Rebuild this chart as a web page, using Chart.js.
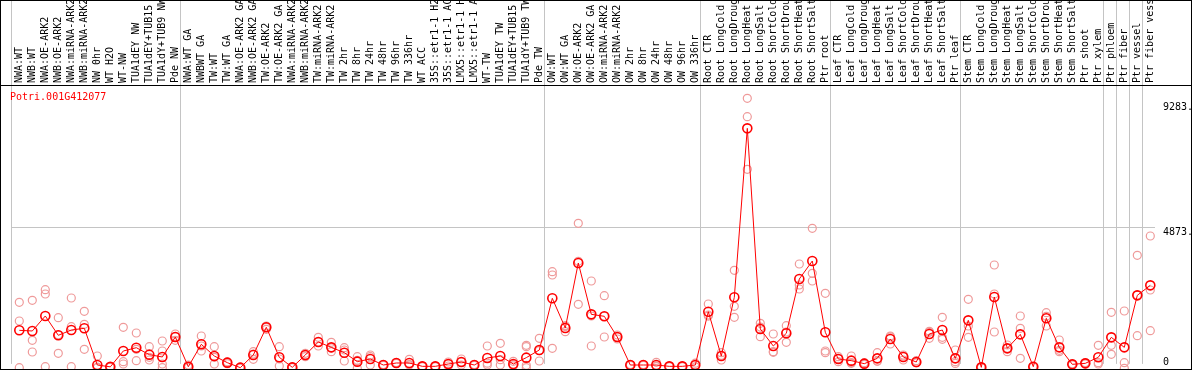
<!DOCTYPE html>
<html>
<head>
<meta charset="utf-8">
<script src="https://cdn.jsdelivr.net/npm/chart.js@4/dist/chart.umd.min.js"></script>
<style>
  html, body { margin: 0; padding: 0; background: #ffffff; }
  #wrap { position: relative; width: 1194px; height: 370px; }
  canvas { display: block; }
</style>
</head>
<body>
<div id="wrap"><canvas id="c" width="1194" height="370"></canvas></div>
<script>
const geneName = "Potri.001G412077";

const categories = [
  "NWA:WT", "NWB:WT", "NWA:OE-ARK2", "NWB:OE-ARK2", "NWA:miRNA-ARK2", "NWB:miRNA-ARK2",
  "NW 0hr", "WT H2O", "WT-NW", "TUA1dEY NW", "TUA1dEY+TUB15", "TUA1dY+TUB9 NW", "Pde NW",
  "NWA:WT GA", "NWBWT GA", "TW:WT", "TW:WT GA", "NWA:OE-ARK2 GA", "NWB:OE-ARK2 GA",
  "TW:OE-ARK2", "TW:OE-ARK2 GA", "NWA:miRNA-ARK2", "NWB:miRNA-ARK2", "TW:miRNA-ARK2", "TW:miRNA-ARK2",
  "TW 2hr", "TW 8hr", "TW 24hr", "TW 48hr", "TW 96hr", "TW 336hr", "WT ACC",
  "35S::etr1-1 H2O", "35S::etr1-1 ACC", "LMX5::etr1-1 H2O", "LMX5::etr1-1 ACC",
  "WT-TW", "TUA1dEY TW", "TUA1dEY+TUB15", "TUA1dY+TUB9 TW", "Pde TW",
  "OW:WT", "OW:WT GA", "OW:OE-ARK2", "OW:OE-ARK2 GA", "OW:miRNA-ARK2", "OW:miRNA-ARK2",
  "OW 2hr", "OW 8hr", "OW 24hr", "OW 48hr", "OW 96hr", "OW 336hr",
  "Root CTR", "Root LongCold", "Root LongDrought", "Root LongHeat", "Root LongSalt",
  "Root ShortCold", "Root ShortDrought", "Root ShortHeat", "Root ShortSalt", "Ptr root",
  "Leaf CTR", "Leaf LongCold", "Leaf LongDrought", "Leaf LongHeat", "Leaf LongSalt",
  "Leaf ShortCold", "Leaf ShortDrought", "Leaf ShortHeat", "Leaf ShortSalt", "Ptr leaf",
  "Stem CTR", "Stem LongCold", "Stem LongDrought", "Stem LongHeat", "Stem LongSalt",
  "Stem ShortCold", "Stem ShortDrought", "Stem ShortHeat", "Stem ShortSalt", "Ptr shoot",
  "Ptr xylem", "Ptr phloem", "Ptr fiber", "Ptr vessel", "Ptr fiber vessel"
];

// mean expression per sample
const meanValues = [
  1259, 1235, 1764, 1083, 1270, 1330, 35, -30, 529, 646, 400, 318, 1023,
  -25, 765, 353, 118, -59, 388, 1365, 307, -47, 388, 847, 658, 470, 153, 247, 35, 106, 106,
  -12, -12, 71, 141, 35, 282, 353, 71, 294, 565,
  2388, 1341, 3634, 1823, 1753, 1023, 35, 35, 35, -12, -12, 35,
  1916, 353, 2423, 8385, 1305, 706, 1153, 3069, 3704, 1189,
  247, 188, 82, 270, 953, 318, 141, 1129, 1270, 270,
  1611, -47, 2434, 623, 1117, -24, 1682, 658, 59, 94, 307,
  1011, 658, 2493, 2846
];

// replicate measurements per sample
const rep1 = [
  2247, 2318, 2692, 1704, 2399, 1930, 353, -20, 1365, 1164, 681, 882, 1129,
  35, 1058, 681, 150, -40, 505, 1411, 681, -40, 448, 1011, 835, 646, 329, 388, 35, 106, 235,
  -12, -12, 141, 247, 35, 706, 800, 165, 729, 976,
  3327, 1422, 5034, 2999, 2480, 1094, 35, 35, 130, -12, -12, 100,
  2187, 470, 3376, 9444, 1506, 1129, 1422, 3599, 4858, 2565,
  329, 353, 118, 470, 1058, 388, 188, 1223, 1718, 565,
  2352, -47, 3563, 741, 1764, -24, 1882, 917, 59, 94, 729,
  1894, 1940, 3905, 4586
];
const rep2 = [
  1588, 907, 2540, 448, 1387, 1471, -40, -30, 152, 187, 212, 529, 1034,
  -40, 529, 71, 118, -60, 235, 1365, 0, -60, 329, 706, 505, 176, 200, 330, 20, 90, 35,
  -20, 0, 0, 35, 20, 100, 35, 0, 682, 176,
  3210, 1210, 2177, 706, 1023, 1023, 20, 20, 0, 0, 0, 35,
  1799, 212, 2106, 8795, 1375, 482, 1200, 2858, 3270, 529,
  153, 94, 59, 176, 776, 212, 118, 976, 1011, 153,
  1411, -30, 2540, 623, 1329, -10, 1411, 505, 80, 120, 118,
  729, 118, 1070, 2681
];
const rep3 = [
  -60, 494, -25, 1100, -25, 589, -60, -40, 71, 589, 307, 71, 906,
  -60, 706, 307, 80, -80, 420, 1294, 247, -40, 388, 847, 635, 565, -82, 35, 50, 120, 50,
  0, -25, 71, 141, 50, 35, 224, 47, 24, 543,
  624, 1390, 3692, 1764, 1756, 952, 50, 50, -25, -25, -25, -30,
  1762, 377, 1718, 6940, 1034, 507, 835, 2717, 2999, 470,
  259, 118, 70, 165, 1025, 353, 118, 1188, 941, 92,
  1011, -60, 1199, 505, 270, -40, 1753, 552, 40, 70, 71,
  412, -82, 2504, 1246
];
const rep4 = categories.map(() => null);
rep4[11] = -60;
rep4[39] = -59;

const yTickValues = [0, 4873, 9283];
const yTickLabels = ["0", "4873.", "9283."];
const separatorIndexes = [0, 13, 41, 53, 63, 73, 84, 85, 86, 87, 88];

const toPoints = arr => arr.map((v, i) => (v === null ? null : { x: i + 1, y: v })).filter(p => p !== null);

const framePlugin = {
  id: 'frame',
  afterDraw(chart) {
    const ctx = chart.ctx;
    ctx.save();
    ctx.strokeStyle = '#000000';
    ctx.lineWidth = 1;
    ctx.beginPath();
    ctx.moveTo(0, 85.5); ctx.lineTo(1192, 85.5);
    ctx.stroke();
    ctx.strokeRect(0.5, 0.5, 1191, 369);
    ctx.fillStyle = '#ff0000';
    ctx.font = '10px "DejaVu Sans Mono"';
    ctx.textBaseline = 'alphabetic';
    ctx.textAlign = 'left';
    ctx.fillText(geneName, 10, 100);
    ctx.restore();
  }
};

const monoFont = { family: '"DejaVu Sans Mono", monospace', size: 10 };

new Chart(document.getElementById('c'), {
  type: 'scatter',
  data: {
    labels: categories,
    datasets: [
      {
        label: 'mean',
        data: toPoints(meanValues),
        xAxisID: 'xd',
        yAxisID: 'y',
        showLine: true,
        borderColor: '#ff0000',
        borderWidth: 1,
        pointRadius: 4.5,
        pointBorderWidth: 1.6,
        pointBorderColor: '#ff0000',
        pointBackgroundColor: 'rgba(0,0,0,0)',
        clip: false
      },
      ...[rep1, rep2, rep3, rep4].map((r, k) => ({
        label: 'rep' + (k + 1),
        data: toPoints(r),
        xAxisID: 'xd',
        yAxisID: 'y',
        showLine: false,
        pointRadius: 4,
        pointBorderWidth: 1.2,
        pointBorderColor: '#ef9a9a',
        pointBackgroundColor: 'rgba(0,0,0,0)',
        clip: false
      }))
    ]
  },
  options: {
    responsive: false,
    animation: false,
    layout: { padding: { left: 11, right: 0, top: 0, bottom: 1 } },
    plugins: { legend: { display: false }, tooltip: { enabled: false }, title: { display: false } },
    scales: {
      x: {
        type: 'category',
        position: 'top',
        offset: true,
        border: { display: false },
        grid: {
          offset: true,
          drawOnChartArea: true,
          drawTicks: true,
          tickLength: 85,
          lineWidth: 1,
          color: ctx => separatorIndexes.includes(ctx.index) ? '#c4c4c4' : 'rgba(0,0,0,0)'
        },
        ticks: {
          autoSkip: false,
          minRotation: 90,
          maxRotation: 90,
          padding: -83,
          labelOffset: 14,
          color: '#000000',
          font: monoFont
        },
        afterFit: scale => {
          scale.height = 85;
          scale.paddingLeft = 0; scale.paddingRight = 0;
          scale.paddingTop = 0; scale.paddingBottom = 0;
        }
      },
      xd: {
        type: 'linear',
        display: false,
        min: 0.3615,
        max: 88.3615
      },
      y: {
        type: 'linear',
        position: 'right',
        min: 74,
        max: 9914,
        border: { display: false },
        grid: {
          drawTicks: false,
          lineWidth: 1,
          color: ctx => (ctx.tick && ctx.tick.value === 4873) ? '#c4c4c4' : 'rgba(0,0,0,0)'
        },
        afterBuildTicks: scale => { scale.ticks = yTickValues.map(v => ({ value: v })); },
        ticks: {
          padding: 8,
          color: '#000000',
          font: ctx => {
            const v = ctx.tick ? ctx.tick.value : null;
            return { family: '"DejaVu Sans Mono", monospace', size: 10, lineHeight: v === 0 ? '7px' : '9px' };
          },
          callback: value => {
            const idx = yTickValues.indexOf(value);
            const txt = idx >= 0 ? yTickLabels[idx] : '';
            return value === 0 ? [txt, ''] : ['', txt];
          }
        },
        afterFit: scale => {
          scale.width = 39;
          scale.paddingLeft = 0; scale.paddingRight = 0;
          scale.paddingTop = 0; scale.paddingBottom = 0;
        }
      }
    }
  },
  plugins: [framePlugin]
});
</script>
</body>
</html>
